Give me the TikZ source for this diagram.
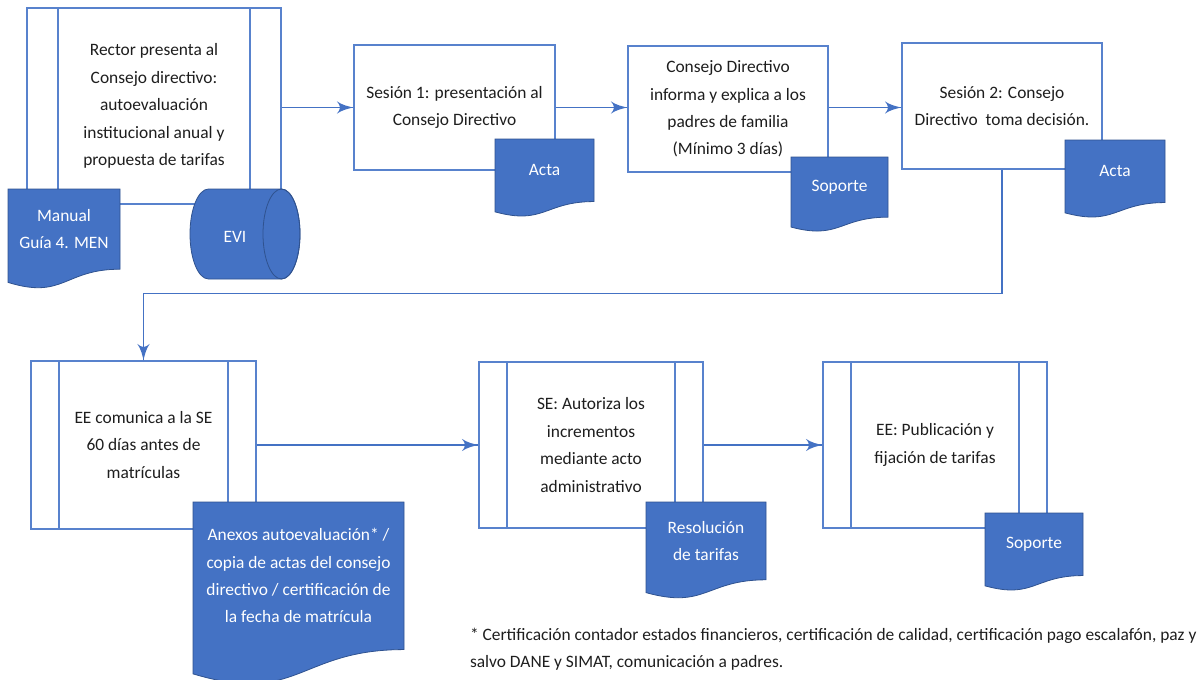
\documentclass[tikz,border=0pt]{standalone}
\usepackage{fontspec}
\setmainfont{Carlito}
\usepackage{tikz}
\usetikzlibrary{arrows}
\usetikzlibrary{decorations.markings}
\definecolor{boxblue}{RGB}{88,130,205}
\definecolor{lineblue}{RGB}{68,114,196}
\definecolor{docblue}{RGB}{68,114,196}
\definecolor{docedge}{RGB}{47,82,143}
\definecolor{textgray}{RGB}{30,30,30}
\tikzset{flow/.style = {draw=lineblue, line width=0.6pt,
                        decoration={markings,
                                    mark=at position 1 with {\arrow[scale=1.8]{latex'}}},
                        postaction={decorate}}}
\tikzset{process/.style = {draw=boxblue, line width=0.6pt, fill=white, align=center, text=textgray},
         predef/.style = {process,
                          path picture={
                            \draw [boxblue, line width=0.6pt] ([xshift=#1]path picture bounding box.north west) -- ([xshift=#1]path picture bounding box.south west);
                            \draw [boxblue, line width=0.6pt] ([xshift=-#1]path picture bounding box.north east) -- ([xshift=-#1]path picture bounding box.south east);}},
         predef/.default = 14pt,
         docfill/.style = {fill=docblue, draw=docedge, line width=0.4pt},
         doctext/.style = {text=white, align=center},
         note/.style = {text=textgray, align=left}}
% name, left, top, width, height, text
\newcommand{\docnode}[6]{%
    \fill [docfill] (#2,#3) -- ({#2+#4},#3) -- ({#2+#4},{#3+0.802*#5})
        .. controls ({#2+0.5*#4},{#3+0.802*#5}) and ({#2+0.5*#4},{#3+1.107*#5}) .. (#2,{#3+0.934*#5}) -- cycle;
    \node [doctext] (#1) at ({#2+0.5*#4},{#3+0.4*#5}) {#6};}

\begin{document}
\begin{tikzpicture}[x=0.5pt, y=-0.5pt, every node/.style={font=\fontsize{8.7}{13.7}\selectfont}]
    \useasboundingbox (0,0) rectangle (1200,680);

    \node [predef=15.5pt, minimum width=127pt, minimum height=98pt] (rector) at (154,106)
        {Rector presenta al\\Consejo directivo:\\autoevaluación\\institucional anual y\\propuesta de tarifas};
    \node [process, minimum width=100.5pt, minimum height=62.5pt] (sesion1) at (454.5,107.5)
        {Sesión 1: presentación al\\Consejo Directivo};
    \node [process, minimum width=100pt, minimum height=63pt] (informa) at (728,109)
        {Consejo Directivo\\informa y explica a los\\padres de familia\\(Mínimo 3 días)};
    \node [process, minimum width=100pt, minimum height=63pt] (sesion2) at (1002,106)
        {Sesión 2: Consejo\\Directivo~ toma decisión.};
    \node [predef, minimum width=112.5pt, minimum height=84pt] (comunica) at (143.5,445)
        {EE comunica a la SE\\60 días antes de\\matrículas};
    \node [predef, minimum width=112pt, minimum height=83pt] (autoriza) at (591,445)
        {SE: Autoriza los\\incrementos\\mediante acto\\administrativo};
    \node [predef, minimum width=112pt, minimum height=83pt] (publica) at (935,445)
        {EE: Publicación y\\fijación de tarifas};

    \draw [flow] (rector.east |- sesion1.west) -- (sesion1.west);
    \draw [flow] (sesion1.east) -- (informa.west |- sesion1.east);
    \draw [flow] (informa.east |- sesion1.east) -- (sesion2.west |- sesion1.east);
    \draw [flow] (sesion2.south) -- ++(0,124) -| (comunica.north);
    \draw [flow] (comunica.east) -- (autoriza.west);
    \draw [flow] (autoriza.east) -- (publica.west);

    \docnode{manual}{8}{189}{112}{100}{Manual\\Guía 4. MEN}
    \fill [docfill] (208.5,189) -- (281.5,189) arc [start angle=90, end angle=-90, x radius=9.25pt, y radius=22.5pt]
        -- (208.5,279) arc [start angle=270, end angle=90, x radius=9.25pt, y radius=22.5pt] -- cycle;
    \draw [docedge, line width=0.4pt] (281.5,234) ellipse [x radius=9.25pt, y radius=22.5pt];
    \node [doctext] (evi) at (235,237) {EVI};
    \docnode{acta1}{495}{139}{99}{78}{Acta}
    \docnode{soporte1}{791}{157}{97}{75}{Soporte}
    \docnode{acta2}{1065}{140}{100}{78}{Acta}
    \docnode{anexos}{193}{502}{211}{184}{Anexos autoevaluación* /\\copia de actas del consejo\\directivo / certificación de\\la fecha de matrícula}
    \docnode{resolucion}{646}{502}{120}{97}{Resolución\\de tarifas}
    \docnode{soporte2}{985}{513}{98}{78}{Soporte}

    \node [note, anchor=west] (nota) at (463,649)
        {* Certificación contador estados financieros, certificación de calidad, certificación pago escalafón, paz y\\salvo DANE y SIMAT, comunicación a padres.};
\end{tikzpicture}
\end{document}
